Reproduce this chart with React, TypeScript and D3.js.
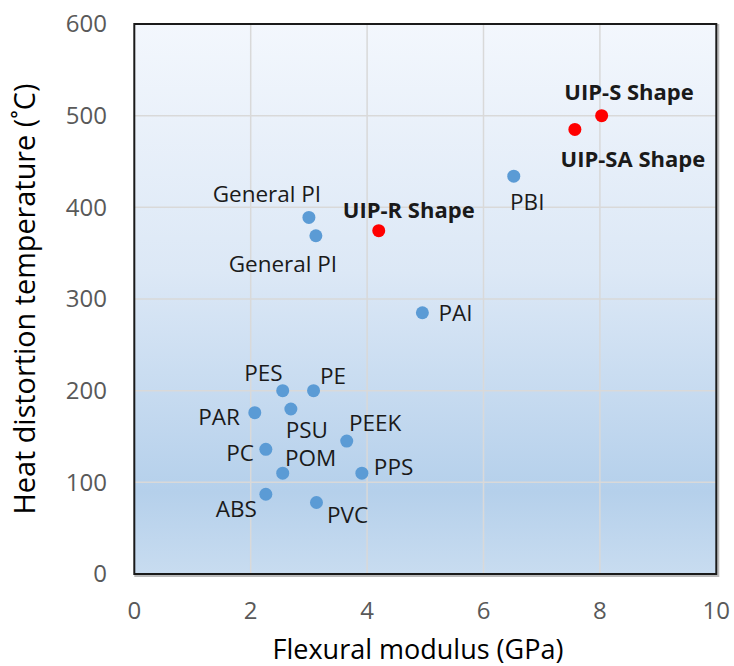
import React from "react";
import * as d3 from "d3";

// ---- data ----
const polymerNames = ["PES", "PE", "PAR", "PSU", "PEEK", "PC", "POM", "PPS", "ABS", "PVC", "General PI", "General PI", "PAI", "PBI"];
const polymerModulus = [2.55, 3.08, 2.07, 2.69, 3.65, 2.26, 2.55, 3.91, 2.26, 3.13, 3.0, 3.12, 4.95, 6.52];
const polymerHDT = [200, 200, 176, 180, 145, 136, 110, 110, 87, 78, 389, 369, 285, 434];

const uipNames = ["UIP-R Shape", "UIP-S Shape", "UIP-SA Shape"];
const uipModulus = [4.2, 8.03, 7.57];
const uipHDT = [374.5, 500, 485];

const xTicks = [0, 2, 4, 6, 8, 10];
const yTicks = [0, 100, 200, 300, 400, 500, 600];

// label placement (anchor, dx, dy in px relative to point)
const polymerLabelPos: [string, number, number][] = [
  ["end", 0, -10],
  ["start", 6.4, -6.4],
  ["end", -14.8, 12.3],
  ["start", -5.2, 28.7],
  ["start", 2.3, -10],
  ["end", -11.8, 11.7],
  ["start", 2.3, -7.2],
  ["start", 12, 1.8],
  ["end", -9, 22.5],
  ["start", 10.5, 20.5],
  ["middle", -42, -15.7],
  ["middle", -33, 36],
  ["start", 16, 8],
  ["middle", 13.5, 34],
];
const uipLabelPos: [string, number, number][] = [
  ["middle", 30, -13],
  ["middle", 27.4, -15.7],
  ["middle", 58, 37.6],
];

const W = 734;
const H = 666;
const plot = { left: 134.3, right: 716.3, top: 24, bottom: 574 };
const FONT = "'Open Sans', 'Noto Sans', sans-serif";

export default function App() {
  const x = d3.scaleLinear().domain([0, 10]).range([plot.left, plot.right]);
  const y = d3.scaleLinear().domain([0, 600]).range([plot.bottom, plot.top]);

  return (
    <svg width={W} height={H} style={{ position: "absolute", left: 0, top: 0, background: "#fff" }} fontFamily={FONT}>
      <defs>
        <linearGradient id="bg" x1="0" y1="0" x2="0" y2="1">
          <stop offset="0%" stopColor="#f3f7fd" />
          <stop offset="45%" stopColor="#dce8f6" />
          <stop offset="85%" stopColor="#b5d0eb" />
          <stop offset="100%" stopColor="#c8dcf0" />
        </linearGradient>
      </defs>
      {/* shadow */}
      <rect x={plot.left + 1} y={plot.top + 1} width={plot.right - plot.left + 1} height={plot.bottom - plot.top + 1} fill="none" stroke="#bbb" strokeWidth={2} />
      <rect x={plot.left} y={plot.top} width={plot.right - plot.left} height={plot.bottom - plot.top} fill="url(#bg)" />
      {/* gridlines */}
      {xTicks.slice(1, -1).map((t) => (
        <line key={"gx" + t} x1={x(t)} x2={x(t)} y1={plot.top} y2={plot.bottom} stroke="#d9d9d9" strokeWidth={1.5} />
      ))}
      {yTicks.slice(1, -1).map((t) => (
        <line key={"gy" + t} x1={plot.left} x2={plot.right} y1={y(t)} y2={y(t)} stroke="#d9d9d9" strokeWidth={1.5} />
      ))}
      <rect x={plot.left} y={plot.top} width={plot.right - plot.left} height={plot.bottom - plot.top} fill="none" stroke="#1a1a1a" strokeWidth={2} />

      {/* tick labels */}
      {xTicks.map((t) => (
        <text key={"tx" + t} x={x(t)} y={619} textAnchor="middle" fontSize={24} fill="#595959">
          {t}
        </text>
      ))}
      {yTicks.map((t) => (
        <text key={"ty" + t} x={107} y={y(t)} dy="0.35em" textAnchor="end" fontSize={24} fill="#595959">
          {t}
        </text>
      ))}

      {/* axis titles */}
      <text x={418} y={659} textAnchor="middle" fontSize={27} fill="#000">
        Flexural modulus (GPa)
      </text>
      <text transform={`translate(35,${(plot.top + plot.bottom) / 2}) rotate(-90)`} textAnchor="middle" fontSize={28.8} fill="#000">
        Heat distortion temperature (˚C)
      </text>

      {/* polymer points */}
      {polymerModulus.map((m, i) => (
        <circle key={"p" + i} cx={x(m)} cy={y(polymerHDT[i])} r={6.5} fill="#5b9bd5" />
      ))}
      {polymerNames.map((n, i) => {
        const [a, dx, dy] = polymerLabelPos[i];
        return (
          <text key={"pl" + i} x={x(polymerModulus[i]) + dx} y={y(polymerHDT[i]) + dy} textAnchor={a} fontSize={22.5} fill="#1a1a1a">
            {n}
          </text>
        );
      })}

      {/* UIP points */}
      {uipModulus.map((m, i) => (
        <circle key={"u" + i} cx={x(m)} cy={y(uipHDT[i])} r={6.5} fill="#ff0000" />
      ))}
      {uipNames.map((n, i) => {
        const [a, dx, dy] = uipLabelPos[i];
        return (
          <text key={"ul" + i} x={x(uipModulus[i]) + dx} y={y(uipHDT[i]) + dy} textAnchor={a} fontSize={22} fontWeight="bold" fill="#1a1a1a">
            {n}
          </text>
        );
      })}
    </svg>
  );
}
